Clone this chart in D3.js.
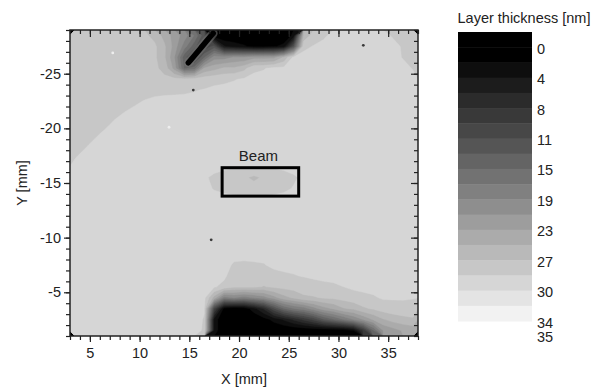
<!DOCTYPE html>
<html><head><meta charset="utf-8">
<script src="https://cdn.jsdelivr.net/npm/d3@7"></script>
<style>
body{margin:0;background:#fff;}
svg text{font-family:"Liberation Sans",Arial,Helvetica,sans-serif;fill:#222;}
</style>
</head><body>
<svg id="chart" width="603" height="389"></svg>
<script>
// ---------------- data ----------------
const xDomain = [3, 38];          // X [mm]
const yDomain = [-29, -1];        // Y [mm]
const xMajorTicks = [5, 10, 15, 20, 25, 30, 35];
const yMajorTicks = [-25, -20, -15, -10, -5];
const xMinorTicks = d3.range(3, 39, 1);
const yMinorTicks = d3.range(-29, 0, 1);

// layer thickness [nm], 1 mm cells:
// row 0 = Y -29..-28 (top), column 0 = X 3..4 (left); 35 columns x 28 rows
const thicknessRows = [
  "27 27 27 27 27  27 27 27 26 24  22 20 17 12 0  0 0 0 0 0  0 0 2.5 25 27.6  28.2 29 29 29 29  29 29 28.3 28.3 28.3",
  "27 27 27 27 27  27 27 27 27 25  22 18 14 10 12  4 3 2.2 1.2 1.0  1.6 2.6 12 28.1 28.6  29 29 29 29 29  29 29 29 28.3 28.3",
  "27 27 27 27 27  27 27 27 27 25  21 14 10 15 20  20 21 21 22 22  22 25 29 29 29  29 29 29 29 29  29 29 29 28.4 28.4",
  "27 27 27 27 27  27 27 27 27 26  22 15 16 23 24  25 25 26 28.1 28.4  28.9 29 29 29 29  29 29 29 29 29  29 29 29 29 28.4",
  "27 27 27 27 27  27 27 27 27 27  27.1 27.2 27.4 27.6 27.9  28.1 28.4 28.7 29 29  29 29 29 29 29  29 29 29 29 29  29 29 29 29 29",
  "27 27 27 27 27  27 27.1 27.6 27.9 28.0  28.1 28.2 28.4 28.6 28.9  29 29 29 29 29  29 29 29 29 29  29 29 29 29 29  29 29 29 29 29",
  "27 27 27 27 27  27.5 28.1 28.6 28.9 29  29 29 29 29 29  29 29 29 29 29  29 29 29 29 29  29 29 29 29 29  29 29 29 29 29",
  "27 27 27 27 27.8  28.5 29 29 29 29  29 29 29 29 29  29 29 29 29 29  29 29 29 29 29  29 29 29 29 29  29 29 29 29 29",
  "27 27 27.1 27.9 28.8  29 29 29 29 29  29 29 29 29 29  29 29 29 29 29  29 29 29 29 29  29 29 29 29 29  29 29 29 29 29",
  "27 27.2 28.1 28.9 29  29 29 29 29 29  29 29 29 29 29  29 29 29 29 29  29 29 29 29 29  29 29 29 29 29  29 29 29 29 29",
  "27.3 28.2 29 29 29  29 29 29 29 29  29 29 29 29 29  29 29 29 29 29  29 29 29 29 29  29 29 29 29 29  29 29 29 29 29",
  "28.3 29 29 29 29  29 29 29 29 29  29 29 29 29 29  29 29 29 29 29  29 29 29 29 29  29 29 29 29 29  29 29 29 29 29",
  "29 29 29 29 29  29 29 29 29 29  29 29 29 29 29  28.9 28.7 28.6 28.6 28.6  28.7 28.9 29 29 29  29 29 29 29 29  29 29 29 29 29",
  "29 29 29 29 29  29 29 29 29 29  29 29 29 28.7 28.2  27.7 27.2 26.9 26.2 26.9  27.3 27.8 28.3 28.8 29  29 29 29 29 29  29 29 29 29 29",
  "29 29 29 29 29  29 29 29 29 29  29 29 29 28.9 28.4  28.1 27.7 27.5 27.4 27.5  27.8 28.2 28.6 29 29  29 29 29 29 29  29 29 29 29 29",
  "29 29 29 29 29  29 29 29 29 29  29 29 29 29 29  29 29 29 29 29  29 29 29 29 29  29 29 29 29 29  29 29 29 29 29",
  "29 29 29 29 29  29 29 29 29 29  29 29 29 29 29  29 29 29 29 29  29 29 29 29 29  29 29 29 29 29  29 29 29 29 29",
  "29 29 29 29 29  29 29 29 29 29  29 29 29 29 29  29 29 29 29 29  29 29 29 29 29  29 29 29 29 29  29 29 29 29 29",
  "29 29 29 29 29  29 29 29 29 29  29 29 29 29 29  29 29 29 29 29  29 29 29 29 29  29 29 29 29 29  29 29 29 29 29",
  "29 29 29 29 29  29 29 29 29 29  29 29 29 29 29  29 29 29 29 29  29 29 29 29 29  29 29 29 29 29  29 29 29 29 29",
  "29 29 29 29 29  29 29 29 29 29  29 29 29 29 29  29 29 29 29 29  29 29 29 29 29  29 29 29 29 29  29 29 29 29 29",
  "29 29 29 29 29  29 29 29 29 29  29 29 29 29 29  29 28.3 28.2 28.3 28.4  28.9 29 29 29 29  29 29 29 29 29  29 29 29 29 29",
  "29 29 29 29 29  29 29 29 29 29  29 29 29 29 29  28.9 27.3 27.3 27.3 27.5  27.9 28.2 28.4 28.6 28.8  29 29 29 29 29  29 29 29 29 29",
  "29 29 29 29 29  29 29 29 29 29  29 29 29 29 28.7  27.9 26.9 26.9 26.9 26.5  26.9 27.2 27.4 27.6 27.8  28.0 28.2 28.5 28.8 29  29 29 29 29 29",
  "29 29 29 29 29  29 29 29 29 29  29 29 29 29 24  18 19 18 19 20  22 24 25 26.2 26.4  26.8 27.0 27.3 27.8 28.0  28.3 28.7 28.7 28.7 28.6",
  "29 29 29 29 29  29 29 29 29 29  29 29 29 28.6 10  1 0 0.5 3 6  11 15 17 18 20  22 23 24.5 25 26.3  26.8 27.5 27.7 27.8 27.8",
  "29 29 29 29 29  29 29 29 29 29  29 29 29 28.4 3  0 0 0 0 1  2.5 4 6 8 10  13 15 17 19 21  23 24.5 25.5 26.0 26.3",
  "29 29 29 29 29  29 29 29 29 29  29 29 29 28.3 3  0 0 0 0 0  0 0 0 0 0  0 0 0.5 1.8 8  15 21 22 23 23.5"
];

// thin uncoated scratch (0 nm) running into the upper uncoated area: [x, y] in mm
const scratch = [[14.9, -26.0], [16.1, -27.3], [17.4, -28.7]];

// colour levels of the legend (nm)
const levelStep = 1.9;
const levelCount = 19;                        // colour slots in the bar
const colorbarTicks = [0, 3.8, 7.6, 11.4, 15.2, 19, 22.8, 26.6, 30.4, 34.2];
const colorbarMaxLabel = "35";
const colorbarTitle = "Layer thickness [nm]";

// beam footprint (mm)
const beamBox = {x0: 18.3, x1: 26.0, y0: -16.4, y1: -13.8, label: "Beam"};
// isolated specks (mm): [x, y, kind]
const specks = [[12.96, -20.1, "light"], [17.2, -9.8, "dark"], [32.5, -27.6, "dark"], [15.4, -23.5, "dark"], [7.3, -26.9, "light"]];

// ---------------- drawing ----------------
const FS = 14.5;
const svg = d3.select("#chart");
const M = {left: 70, right: 418, top: 30, bottom: 336};
const x = d3.scaleLinear().domain(xDomain).range([M.left, M.right]);
const y = d3.scaleLinear().domain(yDomain).range([M.top, M.bottom]);

const slotGray = s => {
  if (s <= 1) return "#000";
  const v = Math.round(14 + (s - 2) * 14.25);
  return d3.rgb(v, v, v).toString();
};

svg.append("clipPath").attr("id", "plotClip")
  .append("rect").attr("x", M.left).attr("y", M.top)
  .attr("width", M.right - M.left).attr("height", M.bottom - M.top);

const grid = thicknessRows.map(r => r.trim().split(/\s+/).map(Number));
const nx = grid[0].length, ny = grid.length;
grid.forEach((r, i) => { if (r.length !== nx) console.error("row", i, "has", r.length); });
const values = grid.flat();

const thresholds = d3.range(1, levelCount).map(k => +((k - 1) * levelStep).toFixed(2));
const contours = d3.contours().size([nx, ny]).thresholds(thresholds)(values);
const proj = d3.geoTransform({
  point(px, py) { this.stream.point(x(xDomain[0] + px), y(yDomain[0] + py)); }
});
const path = d3.geoPath(proj);

const map = svg.append("g").attr("clip-path", "url(#plotClip)");
map.append("rect").attr("x", M.left).attr("y", M.top)
  .attr("width", M.right - M.left).attr("height", M.bottom - M.top).attr("fill", slotGray(0));
map.selectAll("path.band").data(contours).join("path")
  .attr("class", "band")
  .attr("d", path)
  .attr("fill", (d, i) => slotGray(i + 1))
  .attr("stroke", (d, i) => slotGray(i + 1))
  .attr("stroke-width", 0.4);

// scratch
map.append("path")
  .attr("d", d3.line().x(d => x(d[0])).y(d => y(d[1])).curve(d3.curveBasis)(scratch))
  .attr("fill", "none").attr("stroke", slotGray(9)).attr("stroke-width", 9)
  .attr("stroke-linecap", "round").attr("opacity", 0.55);
map.append("path")
  .attr("d", d3.line().x(d => x(d[0])).y(d => y(d[1])).curve(d3.curveBasis)(scratch))
  .attr("fill", "none").attr("stroke", slotGray(0)).attr("stroke-width", 5.5)
  .attr("stroke-linecap", "round");

map.selectAll("circle.speck").data(specks).join("circle")
  .attr("class", "speck")
  .attr("cx", d => x(d[0])).attr("cy", d => y(d[1])).attr("r", 1.4)
  .attr("fill", d => d[2] === "light" ? "#eeeeee" : "#3a3a3a");

// beam box
svg.append("rect")
  .attr("x", x(beamBox.x0)).attr("y", y(beamBox.y0))
  .attr("width", x(beamBox.x1) - x(beamBox.x0))
  .attr("height", y(beamBox.y1) - y(beamBox.y0))
  .attr("fill", "none").attr("stroke", "#000").attr("stroke-width", 3);
svg.append("text")
  .attr("x", x((beamBox.x0 + beamBox.x1) / 2) - 2)
  .attr("y", y(beamBox.y0) - 7)
  .attr("text-anchor", "middle").attr("font-size", 15)
  .text(beamBox.label);

// axes
const plainFmt = d => String(d);
function styleAxis(g) {
  g.select(".domain").remove();
  g.selectAll(".tick line").attr("stroke", "#222").attr("stroke-width", 1.2);
  g.selectAll("text").attr("font-size", FS).attr("fill", "#222");
}
const axes = svg.append("g");
axes.append("g").attr("transform", `translate(0,${M.bottom})`)
  .call(d3.axisBottom(x).tickValues(xMinorTicks).tickSize(4).tickFormat("")).call(styleAxis);
axes.append("g").attr("transform", `translate(0,${M.bottom})`)
  .call(d3.axisBottom(x).tickValues(xMajorTicks).tickSize(6).tickPadding(6).tickFormat(plainFmt)).call(styleAxis);
axes.append("g").attr("transform", `translate(0,${M.top})`)
  .call(d3.axisTop(x).tickValues(xMinorTicks).tickSize(-4).tickFormat("")).call(styleAxis);
axes.append("g").attr("transform", `translate(0,${M.top})`)
  .call(d3.axisTop(x).tickValues(xMajorTicks).tickSize(-7).tickFormat("")).call(styleAxis);
axes.append("g").attr("transform", `translate(${M.left},0)`)
  .call(d3.axisLeft(y).tickValues(yMinorTicks).tickSize(4).tickFormat("")).call(styleAxis);
axes.append("g").attr("transform", `translate(${M.left},0)`)
  .call(d3.axisLeft(y).tickValues(yMajorTicks).tickSize(6).tickPadding(3).tickFormat(plainFmt)).call(styleAxis);
axes.append("g").attr("transform", `translate(${M.right},0)`)
  .call(d3.axisRight(y).tickValues(yMinorTicks).tickSize(-4).tickFormat("")).call(styleAxis);
axes.append("g").attr("transform", `translate(${M.right},0)`)
  .call(d3.axisRight(y).tickValues(yMajorTicks).tickSize(-7).tickFormat("")).call(styleAxis);

svg.append("rect").attr("x", M.left).attr("y", M.top)
  .attr("width", M.right - M.left).attr("height", M.bottom - M.top)
  .attr("fill", "none").attr("stroke", "#222").attr("stroke-width", 1.5);

svg.append("text").attr("x", (M.left + M.right) / 2).attr("y", 384)
  .attr("text-anchor", "middle").attr("font-size", FS).text("X [mm]");
svg.append("text").attr("transform", `translate(27,${(M.top + M.bottom) / 2}) rotate(-90)`)
  .attr("text-anchor", "middle").attr("font-size", FS).text("Y [mm]");

// colour bar
const CB = {x: 458, w: 74, top: 32, bottom: 321};
const cbY = d3.scaleLinear().domain([-levelStep, (levelCount - 1) * levelStep]).range([CB.top, CB.bottom]);
const slots = d3.range(levelCount);
svg.append("g").selectAll("rect").data(slots).join("rect")
  .attr("x", CB.x).attr("width", CB.w)
  .attr("y", s => cbY((s - 1) * levelStep))
  .attr("height", s => cbY(s * levelStep) - cbY((s - 1) * levelStep) + 0.5)
  .attr("fill", s => slotGray(s));
const cbFmt = d3.format(".0f");
svg.append("g").selectAll("text").data(colorbarTicks).join("text")
  .attr("x", 537).attr("y", d => cbY(d) + 6.5)
  .attr("font-size", FS).text(d => cbFmt(d));
svg.append("text").attr("x", 537).attr("y", cbY(colorbarTicks[colorbarTicks.length - 1]) + 21)
  .attr("font-size", FS).text(colorbarMaxLabel);
svg.append("text").attr("x", 524).attr("y", 23).attr("text-anchor", "middle")
  .attr("font-size", FS).text(colorbarTitle);
</script>
</body></html>
